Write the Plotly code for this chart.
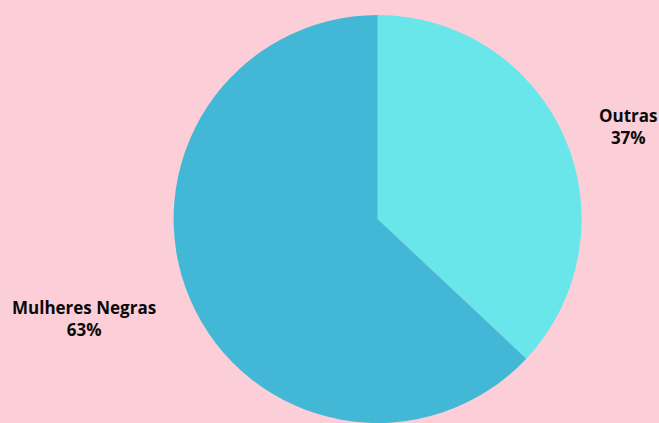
import plotly.graph_objects as go

labels = ["Outras", "Mulheres Negras"]
values = [37, 63]
colors = ["#69e6e9", "#42b8d6"]
label_pos = [(0.953, 0.727), (0.128, 0.256)]  # paper coords for the outside labels

total = sum(values)

fig = go.Figure(go.Pie(
    labels=labels,
    values=values,
    sort=False,
    direction="clockwise",
    rotation=0,
    marker=dict(colors=colors, line=dict(width=0)),
    textinfo="none",
    hoverinfo="label+percent",
    showlegend=False,
    domain=dict(x=[0.146, 1.0], y=[0, 1]),
))

for lab, val, (px, py) in zip(labels, values, label_pos):
    pct = round(val / total * 100)
    fig.add_annotation(
        x=px, y=py, xref="paper", yref="paper",
        text=f"<b>{lab}</b><br><b>{pct}%</b>",
        showarrow=False, xanchor="center", yanchor="middle", align="center",
        font=dict(family="Open Sans", size=17, color="#0a0a0a"),
    )

fig.update_layout(
    width=659,
    height=423,
    margin=dict(l=0, r=0, t=15, b=0),
    paper_bgcolor="#fccfd8",
    plot_bgcolor="#fccfd8",
)

fig.write_html("out.html")
